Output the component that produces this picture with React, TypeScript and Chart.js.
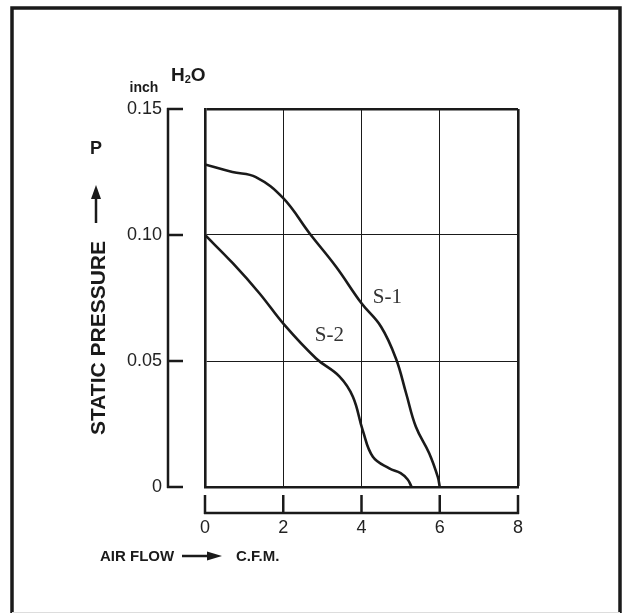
import React, { useEffect, useRef } from 'react';
import { Chart, registerables } from 'chart.js';

Chart.register(...registerables);

// ---- data ----
const seriesNames = ['S-1', 'S-2'];
const s1Flow = [0, 0.7, 1.3, 2.0, 2.67, 3.35, 4.0, 4.5, 4.88, 5.14, 5.39, 5.73, 5.95, 6.0];
const s1Pressure = [0.128, 0.125, 0.123, 0.1146, 0.1007, 0.0874, 0.0729, 0.0636, 0.051, 0.0372, 0.0239, 0.0134, 0.004, 0];
const s2Flow = [0, 0.71, 1.39, 2.03, 2.84, 3.44, 3.78, 4.03, 4.29, 4.71, 5.0, 5.18, 5.28];
const s2Pressure = [0.1, 0.0888, 0.0769, 0.0643, 0.051, 0.0438, 0.0358, 0.0226, 0.012, 0.0074, 0.0055, 0.003, 0];
const xTicks = [0, 2, 4, 6, 8];
const xTickLabels = ['0', '2', '4', '6', '8'];
const yTicks = [0, 0.05, 0.1, 0.15];
const yTickLabels = ['0', '0.05', '0.10', '0.15'];

const SANS = '"Liberation Sans", Arial, sans-serif';
const SERIF = '"Liberation Serif", "DejaVu Serif", serif';
const INK = '#1a1a1a';

const decor = {
  id: 'decor',
  beforeDraw(chart: any) {
    const ctx = chart.ctx;
    ctx.save();
    ctx.fillStyle = '#ffffff';
    ctx.fillRect(0, 0, chart.width, chart.height);
    ctx.strokeStyle = INK;
    ctx.lineWidth = 3.5;
    ctx.beginPath();
    ctx.moveTo(12, 613);
    ctx.lineTo(12, 8);
    ctx.lineTo(620, 8);
    ctx.lineTo(620, 613);
    ctx.stroke();
    ctx.strokeStyle = '#dddddd';
    ctx.lineWidth = 1;
    ctx.beginPath();
    ctx.moveTo(12, 612.5);
    ctx.lineTo(620, 612.5);
    ctx.stroke();
    ctx.restore();
  },
  afterDraw(chart: any) {
    const ctx = chart.ctx;
    const x = chart.scales.x;
    const y = chart.scales.y;
    ctx.save();
    ctx.strokeStyle = INK;
    ctx.lineWidth = 2.5;
    ctx.lineCap = 'butt';

    // detached y axis
    const ax = x.left - 37;
    ctx.beginPath();
    ctx.moveTo(ax, y.getPixelForValue(yTicks[yTicks.length - 1]) - 1);
    ctx.lineTo(ax, y.getPixelForValue(yTicks[0]) + 1);
    yTicks.forEach((v) => {
      const py = y.getPixelForValue(v);
      ctx.moveTo(ax - 1, py);
      ctx.lineTo(ax + 15, py);
    });
    ctx.stroke();

    // detached x axis
    const ay = y.bottom + 26;
    ctx.beginPath();
    ctx.moveTo(x.getPixelForValue(xTicks[0]) - 1, ay);
    ctx.lineTo(x.getPixelForValue(xTicks[xTicks.length - 1]) + 1, ay);
    xTicks.forEach((v) => {
      const px = x.getPixelForValue(v);
      ctx.moveTo(px, ay + 1);
      ctx.lineTo(px, ay - 18);
    });
    ctx.stroke();

    // unit labels
    ctx.fillStyle = INK;
    ctx.textBaseline = 'middle';
    ctx.textAlign = 'center';
    ctx.font = `bold 14px ${SANS}`;
    ctx.fillText('inch', 144, 88);
    ctx.textAlign = 'left';
    ctx.font = `bold 19px ${SANS}`;
    let hx = 171;
    ctx.fillText('H', hx, 76);
    hx += ctx.measureText('H').width;
    ctx.font = `bold 11px ${SANS}`;
    ctx.fillText('2', hx, 80);
    hx += ctx.measureText('2').width;
    ctx.font = `bold 19px ${SANS}`;
    ctx.fillText('O', hx, 76);

    // P with arrow
    ctx.textAlign = 'center';
    ctx.font = `bold 18px ${SANS}`;
    ctx.fillText('P', 96, 149);
    ctx.lineWidth = 2.5;
    ctx.beginPath();
    ctx.moveTo(96, 223);
    ctx.lineTo(96, 195);
    ctx.stroke();
    ctx.beginPath();
    ctx.moveTo(96, 185);
    ctx.lineTo(101, 199);
    ctx.lineTo(91, 199);
    ctx.closePath();
    ctx.fill();

    // rotated title
    ctx.save();
    ctx.translate(99, 338);
    ctx.rotate(-Math.PI / 2);
    ctx.font = `bold 21px ${SANS}`;
    ctx.fillText('STATIC PRESSURE', 0, 0);
    ctx.restore();

    // air flow label
    ctx.textAlign = 'left';
    ctx.font = `bold 15px ${SANS}`;
    ctx.fillText('AIR FLOW', 100, 557);
    ctx.fillText('C.F.M.', 236, 557);
    ctx.lineWidth = 2.5;
    ctx.beginPath();
    ctx.moveTo(182, 556);
    ctx.lineTo(210, 556);
    ctx.stroke();
    ctx.beginPath();
    ctx.moveTo(222, 556);
    ctx.lineTo(207, 551.5);
    ctx.lineTo(207, 560.5);
    ctx.closePath();
    ctx.fill();

    // series labels
    ctx.fillStyle = '#333333';
    ctx.textAlign = 'center';
    ctx.font = `21px ${SERIF}`;
    ctx.fillText(seriesNames[0], x.getPixelForValue(4.66), y.getPixelForValue(0.0754));
    ctx.fillText(seriesNames[1], x.getPixelForValue(3.18), y.getPixelForValue(0.0603));
    ctx.restore();
  },
};

export default function App() {
  const ref = useRef<HTMLCanvasElement | null>(null);

  useEffect(() => {
    if (!ref.current) return;
    const xMax = xTicks[xTicks.length - 1];
    const yMax = yTicks[yTicks.length - 1];
    const chart = new Chart(ref.current, {
      type: 'scatter',
      data: {
        datasets: [
          {
            label: seriesNames[0],
            data: s1Flow.map((f, i) => ({ x: f, y: s1Pressure[i] })),
            showLine: true,
            borderColor: INK,
            borderWidth: 2.6,
            pointRadius: 0,
            tension: 0.4,
          },
          {
            label: seriesNames[1],
            data: s2Flow.map((f, i) => ({ x: f, y: s2Pressure[i] })),
            showLine: true,
            borderColor: INK,
            borderWidth: 2.6,
            pointRadius: 0,
            tension: 0.4,
          },
        ],
      },
      options: {
        animation: false,
        responsive: false,
        events: [],
        layout: { padding: { left: 0, top: 109, right: 104, bottom: 0 } },
        plugins: { legend: { display: false }, tooltip: { enabled: false } },
        scales: {
          x: {
            type: 'linear',
            min: xTicks[0],
            max: xMax,
            afterFit: (s: any) => { s.height = 128; },
            afterBuildTicks: (s: any) => { s.ticks = xTicks.map((v) => ({ value: v })); },
            ticks: {
              padding: 30,
              maxRotation: 0,
              color: '#222',
              font: { family: SANS, size: 18 },
              callback: (_v: any, i: number) => xTickLabels[i],
            },
            grid: {
              drawTicks: false,
              color: INK,
              lineWidth: (c: any) => (c.tick && c.tick.value === xMax ? 2.6 : 1),
            },
            border: { display: true, color: INK, width: 2.6 },
          },
          y: {
            type: 'linear',
            min: yTicks[0],
            max: yMax,
            afterFit: (s: any) => { s.width = 205; },
            afterBuildTicks: (s: any) => { s.ticks = yTicks.map((v) => ({ value: v })); },
            ticks: {
              padding: 43,
              color: '#222',
              font: { family: SANS, size: 18 },
              callback: (_v: any, i: number) => yTickLabels[i],
            },
            grid: {
              drawTicks: false,
              color: INK,
              lineWidth: (c: any) => (c.tick && Math.abs(c.tick.value - yMax) < 1e-9 ? 2.6 : 1),
            },
            border: { display: true, color: INK, width: 2.6 },
          },
        },
      },
      plugins: [decor],
    } as any);
    return () => chart.destroy();
  }, []);

  return (
    <div style={{ position: 'absolute', left: 0, top: 0, width: 622, height: 615 }}>
      <canvas ref={ref} width={622} height={615} />
    </div>
  );
}
